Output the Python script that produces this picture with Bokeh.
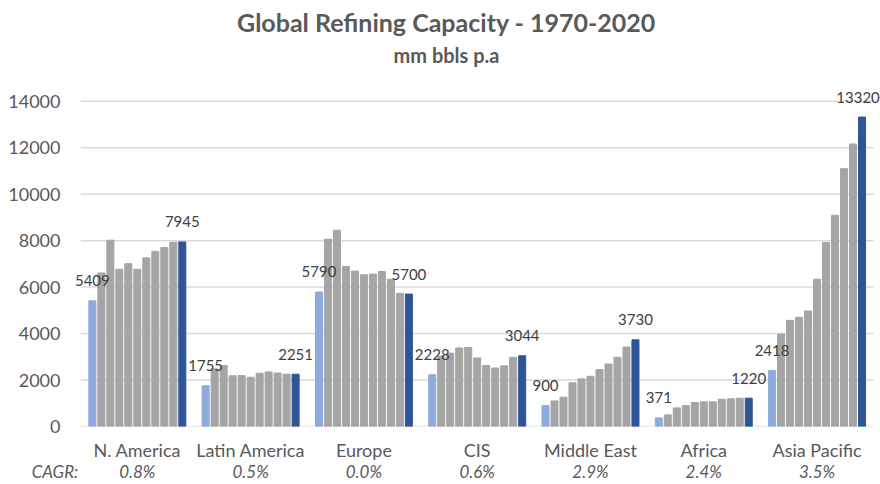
from bokeh.plotting import figure
from bokeh.models import (ColumnDataSource, Range1d, FixedTicker, LinearAxis,
                          Label, LabelSet)
from bokeh.core.properties import value
from bokeh.embed import file_html
from bokeh.resources import INLINE

# Refining capacity (mm bbls p.a) by region, every five years 1970-2020
regions = ["N. America", "Latin America", "Europe", "CIS", "Middle East", "Africa", "Asia Pacific"]
years = [1970, 1975, 1980, 1985, 1990, 1995, 2000, 2005, 2010, 2015, 2020]

n_america = [5409, 6610, 8020, 6770, 7010, 6770, 7260, 7540, 7700, 7930, 7945]
latin_america = [1755, 2480, 2620, 2180, 2190, 2120, 2290, 2350, 2300, 2250, 2251]
europe = [5790, 8060, 8450, 6890, 6690, 6530, 6560, 6670, 6340, 5730, 5700]
cis = [2228, 3030, 3160, 3380, 3400, 2950, 2630, 2520, 2610, 2980, 3044]
middle_east = [900, 1100, 1260, 1880, 2050, 2160, 2450, 2690, 2980, 3420, 3730]
africa = [371, 500, 800, 900, 1030, 1060, 1060, 1170, 1190, 1215, 1220]
asia_pacific = [2418, 3980, 4570, 4700, 4970, 6340, 7920, 9090, 11100, 12160, 13320]

cagr = ["0.8%", "0.5%", "0.0%", "0.6%", "2.9%", "2.4%", "3.5%"]
y_ticks = [0, 2000, 4000, 6000, 8000, 10000, 12000, 14000]

series = [n_america, latin_america, europe, cis, middle_east, africa, asia_pacific]

FIRST_COLOR = "#8FAADC"
MID_COLOR = "#A5A5A5"
LAST_COLOR = "#2F5597"
TEXT_COLOR = "#595959"
FONT = "Lato"

X_START, X_END = -0.09, 7.06
pitch = 0.0794
n = len(years)
centers = [i + 0.5 for i in range(len(regions))]

xs, tops, colors = [], [], []
for c, vals in zip(centers, series):
    for j, v in enumerate(vals):
        xs.append(c + (j - (n - 1) / 2) * pitch)
        tops.append(v)
        colors.append(FIRST_COLOR if j == 0 else (LAST_COLOR if j == n - 1 else MID_COLOR))
bars = ColumnDataSource(dict(x=xs, top=tops, color=colors))

# value labels on the first (1970) and last (2020) bar of every region;
# the very last one is nudged left so it stays on the canvas
lx, ly, lt, ldx = [], [], [], []
for c, vals in zip(centers, series):
    for j in (0, n - 1):
        lx.append(c + (j - (n - 1) / 2) * pitch)
        ly.append(vals[j])
        lt.append(str(vals[j]))
        ldx.append(0)
ldx[-1] = -4
labels = ColumnDataSource(dict(x=lx, y=ly, text=lt, dx=ldx))

p = figure(width=880, height=484, output_backend="svg", toolbar_location=None,
           x_range=Range1d(X_START, X_END), y_range=Range1d(0, 18337),
           min_border_left=70, min_border_right=0, min_border_top=0, min_border_bottom=57)
p.outline_line_color = None
p.background_fill_color = "white"
p.border_fill_color = "white"
p.extra_x_ranges["cagr"] = Range1d(X_START, X_END)

# horizontal gridlines spanning the seven region groups
p.segment(x0=[0] * len(y_ticks), x1=[len(regions)] * len(y_ticks), y0=y_ticks, y1=y_ticks,
          line_color="#D9D9D9", line_width=1.5)
p.xgrid.grid_line_color = None
p.ygrid.grid_line_color = None

p.vbar(x="x", top="top", width=0.062, color="color", source=bars)
p.add_layout(LabelSet(x="x", y="y", text="text", source=labels, text_align="center",
                      text_baseline="middle", y_offset=20, x_offset="dx",
                      text_font=value(FONT), text_font_size="15px", text_color="#404040"))

# y axis
p.yaxis.ticker = FixedTicker(ticks=y_ticks)
p.yaxis.axis_line_color = None
p.yaxis.major_tick_line_color = None
p.yaxis.minor_tick_line_color = None
p.yaxis.major_tick_out = 0
p.yaxis.major_tick_in = 0
p.yaxis.minor_tick_out = 0
p.yaxis.major_label_standoff = 10
p.yaxis.major_label_text_font = FONT
p.yaxis.major_label_text_font_size = "18px"
p.yaxis.major_label_text_color = TEXT_COLOR

# region names
p.xaxis.ticker = FixedTicker(ticks=centers)
p.xaxis.major_label_overrides = dict(zip(centers, regions))
p.xaxis.axis_line_color = None
p.xaxis.major_tick_line_color = None
p.xaxis.minor_tick_line_color = None
p.xaxis.major_tick_out = 0
p.xaxis.major_tick_in = 0
p.xaxis.minor_tick_out = 0
p.xaxis.major_label_standoff = 12
p.xaxis.major_label_text_font = FONT
p.xaxis.major_label_text_font_size = "18px"
p.xaxis.major_label_text_color = TEXT_COLOR

# growth-rate row beneath the region names, led by a "CAGR:" caption sitting at
# the left edge (padded with trailing spaces so the word ends by the first group)
cagr_ticks = [X_START + 0.001] + centers
cagr_text = ["CAGR:\u2003\u2003\u2002"] + cagr
cagr_axis = LinearAxis(x_range_name="cagr", ticker=FixedTicker(ticks=cagr_ticks),
                       major_label_overrides=dict(zip(cagr_ticks, cagr_text)))
cagr_axis.axis_line_color = None
cagr_axis.major_tick_line_color = None
cagr_axis.minor_tick_line_color = None
cagr_axis.major_tick_out = 0
cagr_axis.major_tick_in = 0
cagr_axis.minor_tick_out = 0
cagr_axis.major_label_standoff = -3
cagr_axis.major_label_text_font = FONT
cagr_axis.major_label_text_font_size = "17px"
cagr_axis.major_label_text_font_style = "italic"
cagr_axis.major_label_text_color = TEXT_COLOR
p.add_layout(cagr_axis, "below")

p.add_layout(Label(x=376, y=405, x_units="screen", y_units="screen",
                   text="Global Refining Capacity - 1970-2020", text_align="center",
                   text_baseline="middle",
                   text_font=FONT, text_font_size="25px", text_font_style="bold",
                   text_color=TEXT_COLOR))
p.add_layout(Label(x=376, y=372, x_units="screen", y_units="screen",
                   text="mm bbls p.a", text_align="center", text_baseline="middle",
                   text_font=FONT, text_font_size="20px", text_font_style="bold",
                   text_color=TEXT_COLOR))

open("out.html", "w").write(file_html(p, INLINE))
